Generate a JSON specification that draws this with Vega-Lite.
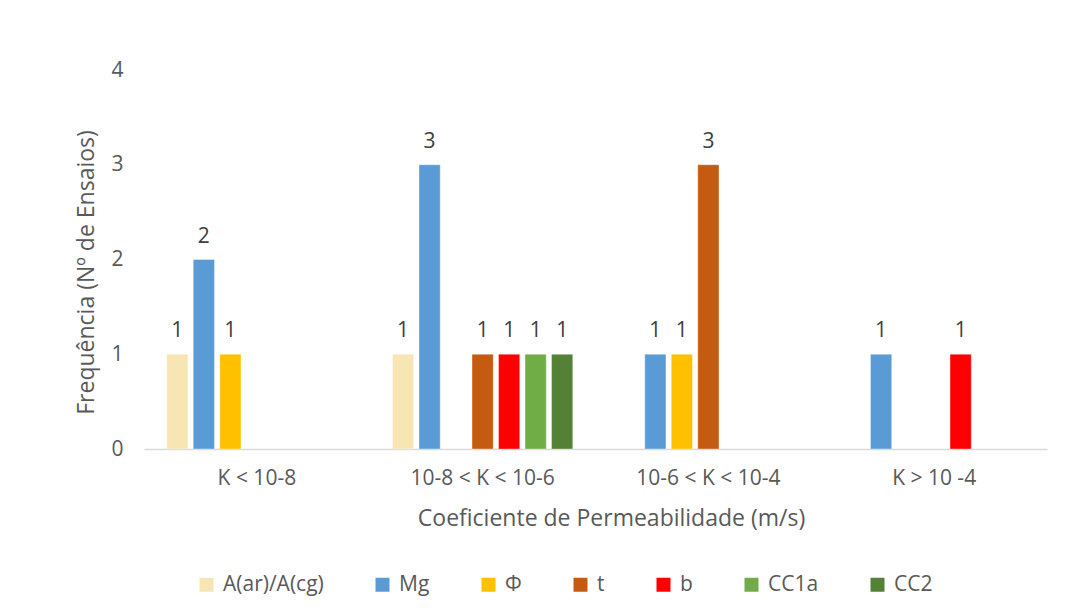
{
  "$schema": "https://vega.github.io/schema/vega-lite/v6.json",
  "width": 903,
  "height": 379,
  "autosize": {"type": "none"},
  "padding": {"left": 144, "top": 70, "right": 24, "bottom": 165},
  "background": "white",
  "config": {
    "font": "Open Sans",
    "view": {"stroke": null}
  },
  "data": {
    "values": [
      {"classe": "K < 10-8", "parametro": "A(ar)/A(cg)", "n": 1},
      {"classe": "K < 10-8", "parametro": "Mg", "n": 2},
      {"classe": "K < 10-8", "parametro": "Φ", "n": 1},
      {"classe": "10-8  < K < 10-6", "parametro": "A(ar)/A(cg)", "n": 1},
      {"classe": "10-8  < K < 10-6", "parametro": "Mg", "n": 3},
      {"classe": "10-8  < K < 10-6", "parametro": "t", "n": 1},
      {"classe": "10-8  < K < 10-6", "parametro": "b", "n": 1},
      {"classe": "10-8  < K < 10-6", "parametro": "CC1a", "n": 1},
      {"classe": "10-8  < K < 10-6", "parametro": "CC2", "n": 1},
      {"classe": "10-6 < K < 10-4", "parametro": "Mg", "n": 1},
      {"classe": "10-6 < K < 10-4", "parametro": "Φ", "n": 1},
      {"classe": "10-6 < K < 10-4", "parametro": "t", "n": 3},
      {"classe": "K > 10 -4", "parametro": "Mg", "n": 1},
      {"classe": "K > 10 -4", "parametro": "b", "n": 1}
    ]
  },
  "encoding": {
    "x": {
      "field": "classe",
      "type": "nominal",
      "sort": ["K < 10-8", "10-8  < K < 10-6", "10-6 < K < 10-4", "K > 10 -4"],
      "scale": {"paddingInner": 0.178, "paddingOuter": 0.089},
      "axis": {
        "title": "Coeficiente de Permeabilidade (m/s)",
        "titleFont": "Open Sans",
        "titleFontSize": 23,
        "titleFontWeight": "normal",
        "titleColor": "#595959",
        "titlePadding": 19,
        "titleX": 467,
        "labelAngle": 0,
        "labelFont": "Open Sans",
        "labelFontSize": 21,
        "labelColor": "#595959",
        "labelPadding": 18,
        "ticks": false,
        "domainColor": "#D9D9D9",
        "domainWidth": 1.5
      }
    },
    "xOffset": {
      "field": "parametro",
      "type": "nominal",
      "scale": {
        "domain": ["A(ar)/A(cg)", "Mg", "Φ", "t", "b", "CC1a", "CC2"],
        "paddingInner": 0.2,
        "paddingOuter": 0.1
      }
    },
    "y": {
      "field": "n",
      "type": "quantitative",
      "scale": {"domain": [0, 4]},
      "axis": {
        "values": [0, 1, 2, 3, 4],
        "title": "Frequência (Nº de Ensaios)",
        "titleFont": "Open Sans",
        "titleFontSize": 23,
        "titleFontWeight": "normal",
        "titleColor": "#595959",
        "titlePadding": 12,
        "titleY": 202,
        "labelFont": "Open Sans",
        "labelFontSize": 21,
        "labelColor": "#595959",
        "labelPadding": 21,
        "ticks": false,
        "domain": false,
        "grid": false
      }
    }
  },
  "layer": [
    {
      "mark": {"type": "bar", "stroke": "white", "strokeOpacity": 0.35, "strokeWidth": 1},
      "encoding": {
        "color": {
          "field": "parametro",
          "type": "nominal",
          "scale": {
            "domain": ["A(ar)/A(cg)", "Mg", "Φ", "t", "b", "CC1a", "CC2"],
            "range": ["#F8E5B4", "#5B9BD5", "#FFC000", "#C55A11", "#FF0000", "#70AD47", "#538135"]
          },
          "legend": {
            "title": null,
            "orient": "none",
            "direction": "horizontal",
            "legendX": 52,
            "legendY": 504,
            "symbolType": "square",
            "symbolSize": 196,
            "symbolStrokeWidth": 0,
            "labelFont": "Open Sans",
            "labelFontSize": 21,
            "labelColor": "#595959",
            "labelOffset": 6,
            "columnPadding": 48
          }
        }
      }
    },
    {
      "mark": {"type": "text", "baseline": "alphabetic", "dy": -17, "font": "Open Sans", "fontSize": 21, "color": "#404040"},
      "encoding": {
        "text": {"field": "n", "type": "quantitative"}
      }
    }
  ]
}
